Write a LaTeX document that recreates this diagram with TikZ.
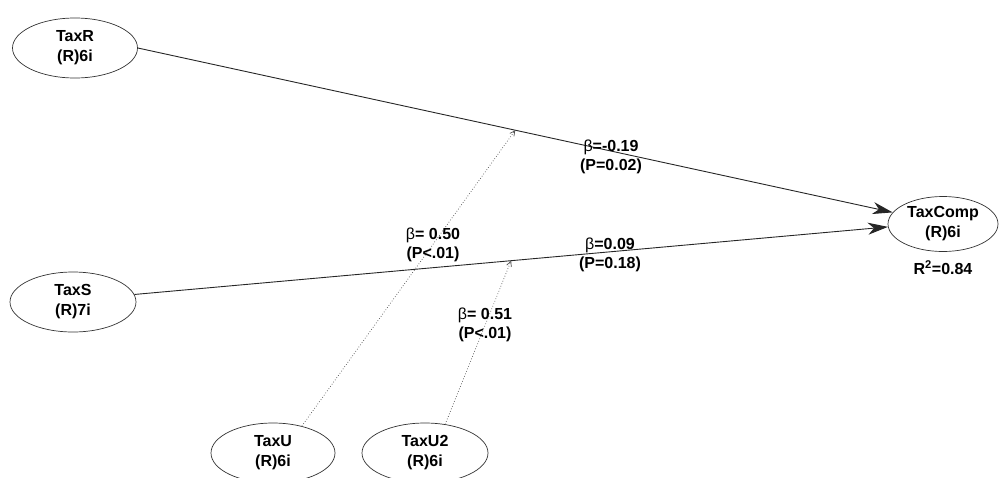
\documentclass[tikz,border=0pt]{standalone}
\usepackage{fontspec}
\setmainfont{Liberation Sans}
\usetikzlibrary{shapes.geometric,arrows.meta}
\tikzset{
  lv/.style={ellipse, draw=black!80, line width=0.7pt, fill=white, align=center,
    font=\fontsize{16}{20}\selectfont\bfseries, inner sep=0pt},
  mainarrow/.style={draw=black!85, line width=0.9pt,
    -{Stealth[length=20pt,width=12pt,inset=6pt]}},
  modarrow/.style={draw=black!70, line width=0.7pt, dotted,
    -{Straight Barb[length=5pt,width=5pt]}},
  lbl/.style={align=center, font=\fontsize{16}{19}\selectfont\bfseries, inner sep=0pt}
}
\newcommand{\bb}{{\mdseries β}}
\begin{document}
\begin{tikzpicture}[x=1pt,y=-1pt]
\useasboundingbox (0,0) rectangle (1000,477);
\node[lv, minimum width=125pt, minimum height=60pt] (taxr) at (75,48) {TaxR\\(R)6i};
\node[lv, minimum width=126pt, minimum height=60pt] (taxs) at (73,302) {TaxS\\(R)7i};
\node[lv, minimum width=110pt, minimum height=55pt] (taxcomp) at (943,224) {TaxComp\\(R)6i};
\node[lv, minimum width=124pt, minimum height=60pt] (taxu) at (273,453) {TaxU\\(R)6i};
\node[lv, minimum width=126pt, minimum height=60pt] (taxu2) at (425,453) {TaxU2\\(R)6i};

\draw[mainarrow] (taxr.east) -- coordinate[pos=0.5] (m1) (taxcomp.167);
\draw[mainarrow] (taxs.7) -- coordinate[pos=0.5] (m2) (taxcomp.183);
\draw[modarrow] (taxu.43) -- (m1);
\draw[modarrow] (taxu2.55) -- (m2);

\node[lbl] (l1) at (611,157) {\bb=-0.19\\(P=0.02)};
\node[lbl] (l2) at (433,245) {\bb= 0.50\\(P<.01)};
\node[lbl] (l3) at (610,255) {\bb=0.09\\(P=0.18)};
\node[lbl] (l4) at (485,325) {\bb= 0.51\\(P<.01)};
\node[lbl] (r2) at (943,268) {R\textsuperscript{2}=0.84};
\end{tikzpicture}
\end{document}
